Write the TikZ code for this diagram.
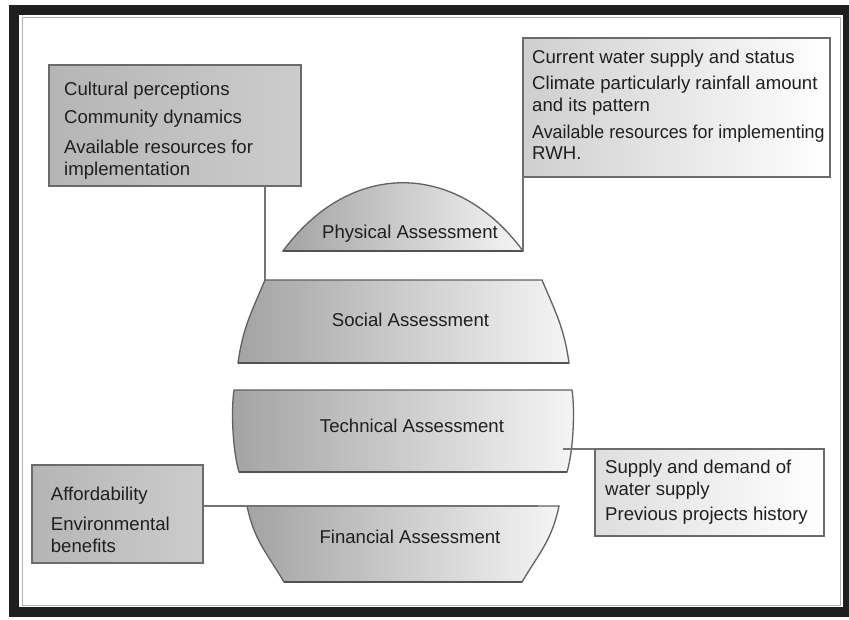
\documentclass[tikz,border=0pt]{standalone}
\usepackage{fontspec}
\setmainfont{Liberation Sans}
\begin{document}
\begin{tikzpicture}[x=1pt,y=-1pt]
\tikzset{
  frame/.style={line width=10pt, draw=black!88},
  innerline/.style={line width=1pt, draw=black!30},
  darkbox/.style={draw=black!58, line width=1.3pt, left color=black!29, right color=black!20,
                  inner sep=0pt, outer sep=0pt, anchor=north west},
  lightbox/.style={draw=black!58, line width=1.3pt, left color=black!19, right color=white,
                  inner sep=0pt, outer sep=0pt, anchor=north west},
  slice/.style={draw=black!62, line width=1.3pt, left color=black!36, right color=black!4},
  bottomedge/.style={draw=black!68, line width=2pt},
  conn/.style={draw=black!55, line width=1.2pt},
  txt/.style={anchor=base west, inner sep=0pt, font=\fontsize{18.6}{22}\selectfont, text=black!88},
  lbl/.style={anchor=base, inner sep=0pt, font=\fontsize{18.6}{22}\selectfont, text=black!88},
}
\useasboundingbox (0,0) rectangle (849,620);
\fill[white] (0,0) rectangle (849,620);
% frame
\draw[frame] (14,10) rectangle (848,612);
\draw[innerline] (22,18) rectangle (840,605);

% key coordinates
\coordinate (physL) at (283,251);
\coordinate (physR) at (523,251);
\coordinate (socTL) at (265,280);
\coordinate (socTR) at (542,280);
\coordinate (socBR) at (569,363);
\coordinate (socBL) at (238,363);
\coordinate (techTL) at (234,390);
\coordinate (techTR) at (572,390);
\coordinate (techBR) at (567,472);
\coordinate (techBL) at (239,472);
\coordinate (finTL) at (247,506);
\coordinate (finTR) at (559,506);
\coordinate (finBR) at (522,582);
\coordinate (finBL) at (284,582);
\coordinate (techC) at (563,449);
\coordinate (finC) at (538,506);

% slices
\path[slice] (physL) .. controls (350,160) and (456,160) .. (physR) -- cycle;
\path[slice] (socTL) -- (socTR) .. controls (555.5,312) and (564.2,328) .. (socBR)
   -- (socBL) .. controls (242.8,328) and (251.5,312) .. (socTL) -- cycle;
\path[slice] (techTL) -- (techTR) .. controls (575,410) and (573.5,450) .. (techBR)
   -- (techBL) .. controls (232.5,450) and (231,410) .. (techTL) -- cycle;
\path[slice] (finTL) -- (finTR) .. controls (551.8,540.3) and (539.9,551.9) .. (finBR)
   -- (finBL) .. controls (266.1,551.9) and (254.2,540.3) .. (finTL) -- cycle;
\draw[bottomedge] (physL) -- (physR);
\draw[bottomedge] (socBL) -- (socBR);
\draw[bottomedge] (techBL) -- (techBR);
\draw[bottomedge] (finBL) -- (finBR);

% boxes
\node[darkbox, minimum width=252pt, minimum height=121pt] (tlbox) at (49,65) {};
\node[lightbox, minimum width=307pt, minimum height=139pt] (trbox) at (523,38) {};
\node[lightbox, left color=black!13, minimum width=229pt, minimum height=87pt] (brbox) at (595,449) {};
\node[darkbox, minimum width=171pt, minimum height=98pt] (blbox) at (32,465) {};

% connectors
\draw[conn] (socTL |- tlbox.south) -- (socTL);
\draw[conn] (trbox.south west) -- (physR);
\draw[conn] (techC) -- (brbox.north west);
\draw[conn] (blbox.east |- finTL) -- (finC);

% labels in slices
\node[lbl] (physlbl) at (410,239) {Physical Assessment};
\node[lbl] (soclbl) at (410.5,326.7) {Social Assessment};
\node[lbl] (techlbl) at (412,432.3) {Technical Assessment};
\node[lbl] (finlbl) at (410,543.3) {Financial Assessment};

% top-left box text
\node[txt] (tl1) at (64,95.7) {Cultural perceptions};
\node[txt] (tl2) at (64,124) {Community dynamics};
\node[txt] (tl3) at (64,153.3) {Available resources for};
\node[txt] (tl4) at (64,176) {implementation};

% top-right box text
\node[txt] (tr1) at (532,63.3) {Current water supply and status};
\node[txt] (tr2) at (532,90) {Climate particularly rainfall amount};
\node[txt] (tr3) at (532,111.7) {and its pattern};
\node[txt] (tr4) at (532,138.3) {\scalebox{0.96}[1]{Available resources for implementing}};
\node[txt] (tr5) at (532,160) {RWH.};

% bottom-right box text
\node[txt] (br1) at (605,473.3) {Supply and demand of};
\node[txt] (br2) at (605,495) {water supply};
\node[txt] (br3) at (605,520.7) {Previous projects history};

% bottom-left box text
\node[txt] (bl1) at (50.7,500) {Affordability};
\node[txt] (bl2) at (50.7,530) {Environmental};
\node[txt] (bl3) at (50.7,552.3) {benefits};
\end{tikzpicture}
\end{document}
